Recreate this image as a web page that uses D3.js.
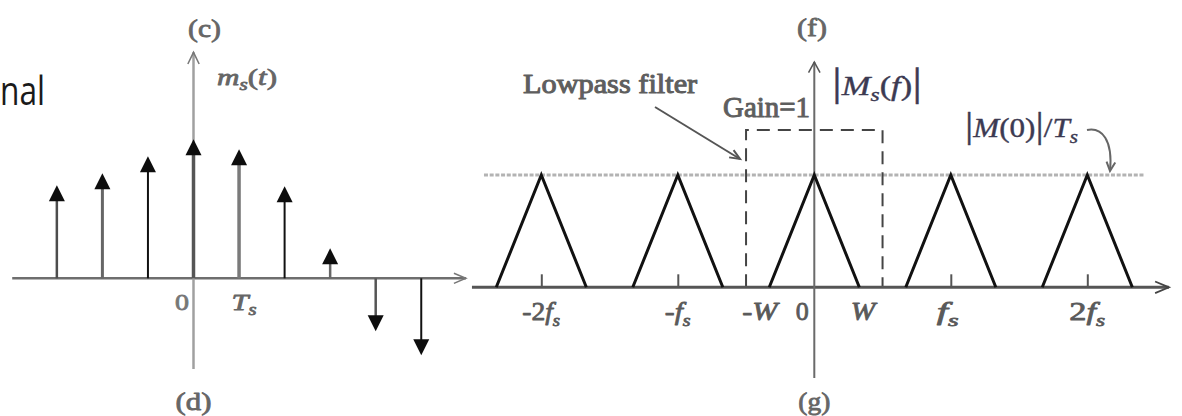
<!DOCTYPE html>
<html><head><meta charset="utf-8">
<script src="https://cdn.jsdelivr.net/npm/d3@7"></script>
<style>html,body{margin:0;padding:0;background:#fff;overflow:hidden}</style>
</head><body><svg id="c" width="1182" height="416"></svg>
<script>
// ---------- data ----------
// (c)/(d): sampled signal m_s(t) at t = n*Ts
const sampleIndex  = [-3, -2, -1, 0, 1, 2, 3, 4, 5];
const sampleValues = [0.93, 1.05, 1.22, 1.39, 1.29, 0.92, 0.30, -0.53, -0.77];
const leftTickValues = [0, 1];
const leftTickLabels = ["0", "T_s"];

// (f)/(g): spectrum |M_s(f)|, frequency in units of fs
const replicaCenters = [-2, -1, 0, 1, 2];
const bandwidthW = 0.33;        // W / fs
const peakLevel = 1;            // |M(0)|/Ts
const filterCutoff = 0.5;       // lowpass filter edge / fs
const filterLevel = 1.4;        // drawn height of the filter box
const rightTickValues = [-2, -1, -0.33, 0, 0.33, 1, 2];
const rightTickLabels = ["-2f_s", "-f_s", "-W", "0", "W", "f_s", "2f_s"];
const markedTicks = [-2, -1, 1, 2];

// ---------- layout ----------
const svg = d3.select("#c");
const SERIF = "'Liberation Serif','Times New Roman',serif";
const xL = d3.scaleLinear().domain([0, 1]).range([193.5, 239.05]);
const yL = d3.scaleLinear().domain([0, 1]).range([278.3, 178.3]);
const xR = d3.scaleLinear().domain([0, 1]).range([814.3, 950.8]);
const yR = d3.scaleLinear().domain([0, 1]).range([287.3, 175]);

// rich text helper: "_x" -> subscript, letters italic (optional)
function rich(parent, str, o) {
  const fill = o.fill || "#555";
  const t = parent.append("text")
    .attr("font-family", SERIF).attr("font-size", o.size)
    .attr("fill", fill).attr("stroke", fill).attr("stroke-width", o.sw === undefined ? 0.8 : o.sw)
    .attr("stroke-linejoin", "round");
  let i = 0;
  while (i < str.length) {
    let ch = str[i], sub = false;
    if (ch === "_") { sub = true; ch = str[i + 1]; i++; }
    const ts = t.append("tspan").text(ch);
    const isLetter = /[A-Za-z]/.test(ch);
    if (o.italic === true || (o.italic !== false && isLetter)) ts.attr("font-style", "italic");
    if (sub) ts.attr("font-size", o.size * 0.68).attr("dy", o.size * 0.22);
    else if (i > 0 && str[i - 2] === "_") ts.attr("dy", -o.size * 0.22);
    if (o.big && ch === "|") ts.attr("font-size", o.big).attr("font-style", "normal");
    i++;
  }
  const w = t.node().getBBox().width;
  const sx = o.width ? o.width / w : (o.sx || 1.22);
  let left;
  if (o.left !== undefined) left = o.left;
  else if (o.cx !== undefined) left = o.cx - w * sx / 2;
  else left = o.right - w * sx;
  t.attr("transform", `translate(${left},${o.y}) scale(${sx},1)`);
  return t;
}
function chevron(g, x, y, dx, dy, len, spread, color, w) {
  const a = Math.atan2(dy, dx);
  const p = [a + Math.PI - spread, a + Math.PI + spread].map(b => [x + len * Math.cos(b), y + len * Math.sin(b)]);
  g.append("path").attr("d", `M${p[0][0]},${p[0][1]}L${x},${y}L${p[1][0]},${p[1][1]}`)
    .attr("fill", "none").attr("stroke", color).attr("stroke-width", w);
}

// ---------- slide text fragment ----------
(function () {
  const t = svg.append("text").attr("font-family", "'Open Sans',sans-serif")
    .attr("font-size", 40).attr("fill", "#1a1a1a").text("nal");
  const w = t.node().getBBox().width;
  t.attr("transform", `translate(0,105) scale(${45 / w},1)`);
})();

// ---------- left panel (c)/(d) ----------
const L = svg.append("g");
L.append("line").attr("x1", xL(-3.98)).attr("x2", xL(5.98)).attr("y1", yL(0)).attr("y2", yL(0))
  .attr("stroke", "#6e6e6e").attr("stroke-width", 2.5);
chevron(L, xL(5.98), yL(0), 1, 0, 13, 0.4, "#777", 1.5);
L.append("line").attr("x1", xL(0)).attr("x2", xL(0)).attr("y1", yL(2.26)).attr("y2", yL(-0.907))
  .attr("stroke", "#a0a0a0").attr("stroke-width", 2.5);
chevron(L, xL(0), yL(2.26), 0, -1, 13, 0.45, "#777", 1.5);

const stemTone  = ["#4d4d4d", "#666", "#111", "#555", "#7a7a7a", "#111", "#666", "#555", "#111"];
const stemWidth = [2.5, 3, 2, 3.5, 3.5, 2, 2.5, 2.5, 2];
sampleIndex.forEach((n, i) => {
  const v = sampleValues[i], x = xL(n), tip = yL(v), s = v >= 0 ? 1 : -1;
  L.append("line").attr("x1", x).attr("x2", x).attr("y1", yL(0)).attr("y2", tip + s * 12)
    .attr("stroke", stemTone[i]).attr("stroke-width", stemWidth[i]);
  L.append("path").attr("d", `M${x},${tip}L${x - 8},${tip + s * 16}L${x + 8},${tip + s * 16}Z`)
    .attr("fill", "#0d0d0d");
});
rich(L, "(c)", {cx: 204.5, y: 37, size: 26, italic: false, width: 33, fill: "#666"});
rich(L, "(d)", {cx: xL(0), y: 410, size: 26, italic: false, width: 36, fill: "#666"});
rich(L, "m_s(t)", {left: 217, y: 85, size: 24, width: 60, fill: "#666"});
rich(L, leftTickLabels[0], {cx: xL(leftTickValues[0]) - 11.5, y: 310, size: 24, italic: false, width: 14, fill: "#777"});
rich(L, leftTickLabels[1], {cx: xL(leftTickValues[1]) + 5, y: 310, size: 24, width: 25, fill: "#666"});

// ---------- right panel (f)/(g) ----------
const R = svg.append("g");
R.append("line").attr("x1", xR(-2.42)).attr("x2", xR(2.42)).attr("y1", yR(peakLevel)).attr("y2", yR(peakLevel))
  .attr("stroke", "#b3b3b3").attr("stroke-width", 3).attr("stroke-dasharray", "4,1.7");
R.append("path")
  .attr("d", d3.line()([[xR(-filterCutoff), yR(0)], [xR(-filterCutoff), yR(filterLevel)],
                       [xR(filterCutoff), yR(filterLevel)], [xR(filterCutoff), yR(0)]]))
  .attr("fill", "none").attr("stroke", "#444").attr("stroke-width", 2).attr("stroke-dasharray", "13,8");
R.append("line").attr("x1", xR(-2.508)).attr("x2", xR(2.598)).attr("y1", yR(0)).attr("y2", yR(0))
  .attr("stroke", "#555").attr("stroke-width", 3);
chevron(R, xR(2.598), yR(0), 1, 0, 15, 0.4, "#444", 1.8);
R.append("line").attr("x1", xR(0)).attr("x2", xR(0)).attr("y1", yR(2.006)).attr("y2", yR(-0.808))
  .attr("stroke", "#6a6a6a").attr("stroke-width", 2);
chevron(R, xR(0), yR(2.006), 0, -1, 12, 0.5, "#555", 1.5);
const ax = R.append("g").attr("transform", `translate(0,${yR(0)})`)
  .call(d3.axisTop(xR).tickValues(markedTicks).tickSize(13).tickFormat(""));
ax.select(".domain").remove();
ax.selectAll(".tick line").attr("stroke", "#555").attr("stroke-width", 2);
replicaCenters.forEach(c => {
  R.append("path")
    .attr("d", d3.line()([[xR(c - bandwidthW), yR(0)], [xR(c), yR(peakLevel)], [xR(c + bandwidthW), yR(0)]]))
    .attr("fill", "none").attr("stroke", "#111").attr("stroke-width", 3).attr("stroke-linejoin", "miter");
});
const rightTickNudge = [0, 0, -8, -12, 5, -3, 0];
const rightTickWidth = [38, 26, 38, 13, 27, 22, 36];
rightTickValues.forEach((v, i) => {
  rich(R, rightTickLabels[i], {cx: xR(v) + rightTickNudge[i], y: 320, size: 26,
    width: rightTickWidth[i], fill: "#5a5a5a"});
});
rich(R, "(f)", {cx: 812, y: 36, size: 26, italic: false, width: 30, fill: "#666"});
rich(R, "(g)", {cx: xR(0), y: 410, size: 26, italic: false, width: 32, fill: "#666"});
rich(R, "Lowpass filter", {left: 523, y: 93, size: 28, italic: false, width: 175, fill: "#5e5e5e", sw: 1});
rich(R, "Gain=1", {left: 723, y: 117, size: 30, italic: false, width: 87, fill: "#5e5e5e", sw: 1});
rich(R, "|M_s(f)|", {left: 832, y: 95, size: 28, big: 40, width: 90, fill: "#3c3a52", sw: 0.4});
rich(R, "|M(0)|/T_s", {left: 965, y: 137, size: 27, big: 36, width: 113, fill: "#3c3a52", sw: 0.4});
R.append("line").attr("x1", 655).attr("y1", 107).attr("x2", 740).attr("y2", 159)
  .attr("stroke", "#555").attr("stroke-width", 2);
chevron(R, 740, 159, 85, 52, 11, 0.4, "#555", 2);
R.append("path").attr("d", "M1087,130C1102,127 1113,140 1110,171")
  .attr("fill", "none").attr("stroke", "#666").attr("stroke-width", 2);
chevron(R, 1110, 171, -0.1, 1, 10, 0.45, "#666", 2);
</script>
</body></html>
